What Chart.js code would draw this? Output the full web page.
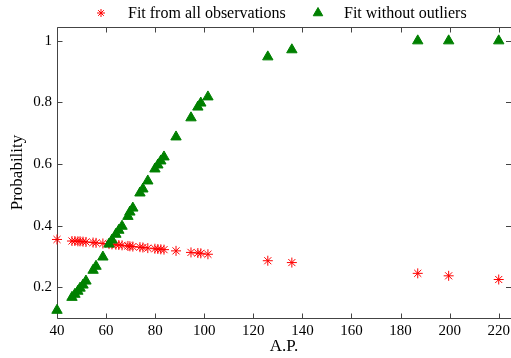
<!DOCTYPE html>
<html>
<head>
<meta charset="utf-8">
<script src="https://cdn.jsdelivr.net/npm/chart.js@4.4.0/dist/chart.umd.min.js"></script>
<style>
  html, body { margin: 0; padding: 0; background: #fff; }
</style>
</head>
<body>
<canvas id="probchart" width="511" height="358"></canvas>
<script>
// A.P. values of the observations
const apValues = [40, 46.1, 47.3, 48.5, 49.4, 50.6, 51.8, 54.7, 55.9, 58.7, 61.2, 62.4, 64, 65.2, 66.5,
  68.9, 69.7, 70.9, 73.8, 75, 77, 79.9, 81.1, 82.3, 83.6, 88.5, 94.6, 97.4, 98.6, 101.5,
  125.9, 135.7, 187, 199.6, 220];

// fitted probabilities
const allObsProb = [0.355, 0.350, 0.350, 0.349, 0.349, 0.348, 0.347, 0.345, 0.344, 0.342, 0.340, 0.339, 0.338, 0.337, 0.336,
  0.334, 0.333, 0.332, 0.330, 0.329, 0.327, 0.325, 0.324, 0.323, 0.322, 0.318, 0.313, 0.311, 0.310, 0.307,
  0.286, 0.280, 0.245, 0.237, 0.225];
const noOutlierProb = [0.125, 0.167, 0.177, 0.187, 0.197, 0.207, 0.220, 0.255, 0.268, 0.298, 0.340, 0.353, 0.372, 0.385, 0.398,
  0.430, 0.444, 0.457, 0.506, 0.519, 0.545, 0.584, 0.597, 0.610, 0.623, 0.688, 0.750, 0.785, 0.798, 0.818,
  0.948, 0.971, 1.0, 1.0, 1.0];

const seriesLabels = ['Fit from all observations', 'Fit without outliers'];

const toPoints = (ys) => apValues.map((x, i) => ({ x: x, y: ys[i] }));

const serif = '"Liberation Serif", "Times New Roman", serif';

// box round the plot (right side falls off the canvas), ticks pointing inwards, legend on top
const frameTicks = {
  id: 'frameTicks',
  beforeDatasetsDraw(chart) {
    const { ctx, chartArea: a, scales } = chart;
    const L = Math.round(a.left) + 0.5, R = Math.round(a.right);
    const T = Math.round(a.top) + 0.5, B = Math.round(a.bottom) + 0.5;
    ctx.save();
    ctx.strokeStyle = '#444';
    ctx.lineWidth = 1;
    ctx.beginPath();
    ctx.moveTo(R, T); ctx.lineTo(L, T); ctx.lineTo(L, B); ctx.lineTo(R, B);
    scales.x.ticks.forEach(t => {
      const px = Math.round(scales.x.getPixelForValue(t.value)) + 0.5;
      ctx.moveTo(px, B); ctx.lineTo(px, B - 5);
      ctx.moveTo(px, T); ctx.lineTo(px, T + 5);
    });
    scales.y.ticks.forEach(t => {
      const py = Math.round(scales.y.getPixelForValue(t.value)) + 0.5;
      ctx.moveTo(L, py); ctx.lineTo(L + 5, py);
      ctx.moveTo(R, py); ctx.lineTo(R - 5, py);
    });
    ctx.stroke();
    ctx.restore();
  },
  afterDraw(chart) {
    const ctx = chart.ctx;
    const ds = chart.data.datasets;
    const spots = [{ mx: 101, tx: 128 }, { mx: 318, tx: 344 }];
    ctx.save();
    ctx.font = '16px ' + serif;
    ctx.textBaseline = 'alphabetic';
    ds.forEach((d, i) => {
      ctx.fillStyle = d.backgroundColor;
      ctx.strokeStyle = d.borderColor;
      Chart.helpers.drawPoint(ctx, {
        pointStyle: d.pointStyle,
        radius: d.pointStyle === 'star' ? 4 : 5.5,
        borderWidth: 1
      }, spots[i].mx, 13);
      ctx.fillStyle = '#000';
      ctx.fillText(d.label, spots[i].tx, 18);
    });
    ctx.restore();
  }
};

new Chart(document.getElementById('probchart'), {
  type: 'scatter',
  data: {
    datasets: [
      {
        label: seriesLabels[0],
        data: toPoints(allObsProb),
        pointStyle: 'star',
        pointRadius: 5,
        pointBorderWidth: 1,
        borderColor: '#ff0000',
        backgroundColor: '#ff0000',
        order: 1,
        clip: false
      },
      {
        label: seriesLabels[1],
        data: toPoints(noOutlierProb),
        pointStyle: 'triangle',
        pointRadius: 6,
        pointBorderWidth: 1,
        borderColor: '#008000',
        backgroundColor: '#008000',
        order: 0,
        clip: false
      }
    ]
  },
  options: {
    responsive: false,
    animation: false,
    events: [],
    layout: { autoPadding: false, padding: { top: 27, right: 0, left: 0, bottom: 0 } },
    plugins: {
      legend: { display: false },
      tooltip: { enabled: false }
    },
    scales: {
      x: {
        type: 'linear',
        min: 40,
        max: 225,
        grid: { display: false, drawTicks: false, tickLength: 0 },
        border: { display: false },
        ticks: {
          stepSize: 20,
          includeBounds: false,
          maxRotation: 0,
          padding: 4,
          color: '#000',
          font: { family: serif, size: 15 }
        },
        title: {
          display: true,
          text: 'A.P.',
          color: '#000',
          padding: 1,
          font: { family: serif, size: 17 }
        },
        afterFit(scale) {
          scale.height = 40;
          scale.paddingLeft = 0;
          scale.paddingRight = 0;
        }
      },
      y: {
        type: 'linear',
        min: 0.1,
        max: 1.045,
        grid: { display: false, drawTicks: false, tickLength: 0 },
        border: { display: false },
        ticks: {
          stepSize: 0.2,
          includeBounds: false,
          padding: 5,
          color: '#000',
          font: { family: serif, size: 15 },
          callback: (v) => String(parseFloat(v.toFixed(1)))
        },
        title: {
          display: true,
          text: 'Probability',
          color: '#000',
          padding: 7,
          font: { family: serif, size: 17 }
        },
        afterFit(scale) {
          scale.width = 57;
          scale.paddingTop = 0;
          scale.paddingBottom = 0;
        }
      }
    }
  },
  plugins: [frameTicks]
});
</script>
</body>
</html>
